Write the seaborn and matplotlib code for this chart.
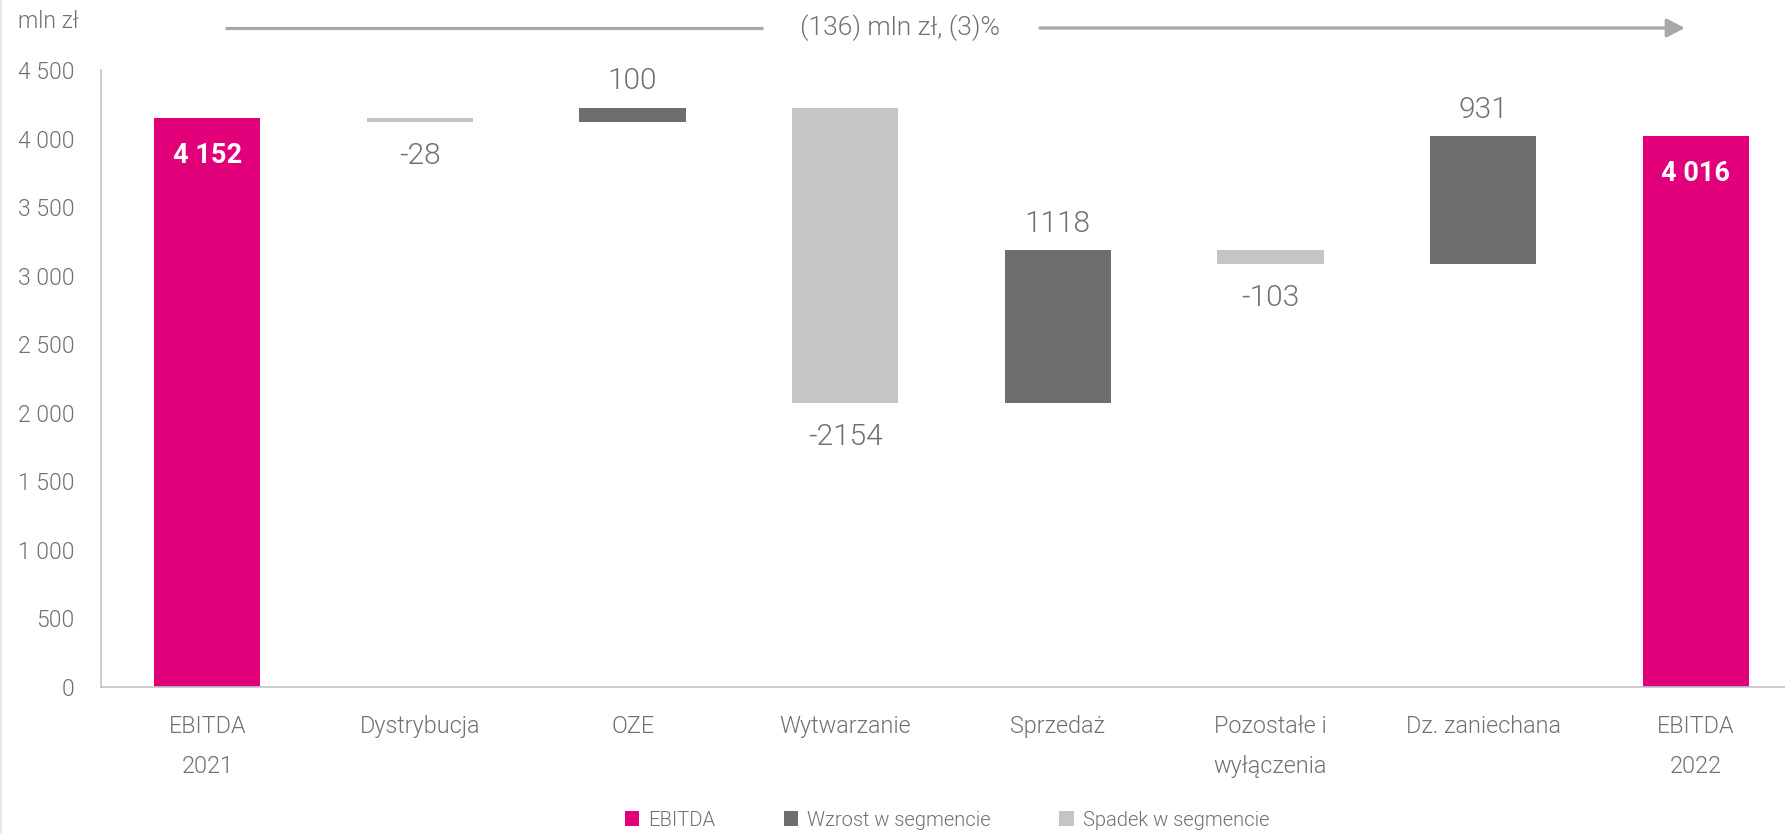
import numpy as np
import pandas as pd
import matplotlib
matplotlib.use("Agg")
import matplotlib.pyplot as plt
from matplotlib.patches import Patch, FancyArrowPatch
from matplotlib.lines import Line2D
from matplotlib.ticker import FuncFormatter, MultipleLocator
import seaborn as sns

# ---- data -------------------------------------------------------------
categories = ["EBITDA\n2021", "Dystrybucja", "OZE", "Wytwarzanie", "Sprzedaż",
              "Pozostałe i\nwyłączenia", "Dz. zaniechana", "EBITDA\n2022"]
ebitda_start = 4152
segment_changes = [-28, 100, -2154, 1118, -103, 931]
ebitda_end = 4016
legend_labels = ["EBITDA", "Wzrost w segmencie", "Spadek w segmencie"]
unit_label = "mln zł"

PINK = "#E2007A"
DARK = "#6E6E6C"
LIGHT = "#C5C5C5"
TEXT = "#707070"
AXIS = "#C4C4C4"
ARROW = "#A8A8A8"

sns.set_theme(style="white")
plt.rcParams["font.family"] = ["Roboto", "DejaVu Sans"]
LIGHTW = 300

# ---- waterfall geometry -------------------------------------------------
rows = [dict(cat=categories[0], height=ebitda_start, bottom=0, kind="total", value=ebitda_start)]
level = ebitda_start
for cat, delta in zip(categories[1:-1], segment_changes):
    new_level = level + delta
    rows.append(dict(cat=cat, height=abs(delta), bottom=min(level, new_level),
                     kind="up" if delta > 0 else "down", value=delta))
    level = new_level
rows.append(dict(cat=categories[-1], height=ebitda_end, bottom=0, kind="total", value=ebitda_end))
df = pd.DataFrame(rows)

fig = plt.figure(figsize=(17.85, 8.34), dpi=100)
fig.patch.set_facecolor("white")
ax = fig.add_axes([101 / 1785, 1 - 687 / 834, 1 - 101 / 1785, (687 - 70) / 834])

colors = {"total": PINK, "up": DARK, "down": LIGHT}
for kind, col in colors.items():
    sub = df[df["kind"] == kind]
    sns.barplot(data=sub, x="cat", y="height", order=categories, color=col,
                saturation=1, width=0.5, errorbar=None, linewidth=0,
                bottom=sub["bottom"].to_numpy(), ax=ax)

ax.set_xlim(-0.5, 7.42)
ax.set_ylim(0, 4500)
ax.yaxis.set_major_locator(MultipleLocator(500))
ax.yaxis.set_major_formatter(FuncFormatter(lambda v, p: f"{int(v):,}".replace(",", " ")))
ax.set_xlabel("")
ax.set_ylabel("")

for side in ["top", "right"]:
    ax.spines[side].set_visible(False)
for side in ["left", "bottom"]:
    ax.spines[side].set_color(AXIS)
    ax.spines[side].set_linewidth(1.2)

ax.tick_params(axis="y", length=0, pad=19, labelsize=16.5, labelcolor=TEXT)
ax.tick_params(axis="x", length=0, pad=20, labelsize=16.8, labelcolor=TEXT)
for lab in ax.get_yticklabels():
    lab.set_fontweight(LIGHTW)
for lab in ax.get_xticklabels():
    lab.set_linespacing(1.95)
    lab.set_horizontalalignment("center")
    lab.set_fontweight(LIGHTW)

# ---- value labels -------------------------------------------------------
for i, r in df.iterrows():
    if r["kind"] == "total":
        ax.annotate(f"{int(r['value']):,}".replace(",", " "),
                    xy=(i, r["height"]), xytext=(0, -27), textcoords="offset points",
                    ha="center", va="center", color="white", fontsize=19.5,
                    fontweight="bold")
    elif r["value"] > 0:
        ax.annotate(f"{int(r['value'])}", xy=(i, r["bottom"] + r["height"]),
                    xytext=(0, 19), textcoords="offset points",
                    ha="center", va="center", color=TEXT, fontsize=21.5,
                    fontweight=LIGHTW)
    else:
        ax.annotate(f"{int(r['value'])}", xy=(i, r["bottom"]),
                    xytext=(0, -24.5), textcoords="offset points",
                    ha="center", va="center", color=TEXT, fontsize=21.5,
                    fontweight=LIGHTW)

# ---- unit label ---------------------------------------------------------
fig.text(48 / 1785, 1 - 21 / 834, unit_label, ha="center", va="center",
         color=TEXT, fontsize=16.5, fontweight=LIGHTW)

# ---- overall change arrow ----------------------------------------------
total_change = ebitda_end - ebitda_start
pct = round(100 * total_change / ebitda_start)
arrow_text = f"({abs(total_change)}) {unit_label}, ({abs(pct)})%"
y_arrow = 1 - 28 / 834
fig.add_artist(Line2D([225 / 1785, 763 / 1785], [y_arrow, y_arrow],
                      color=ARROW, lw=2.3, solid_capstyle="butt"))
fig.text(900 / 1785, y_arrow, arrow_text, ha="center", va="center",
         color=TEXT, fontsize=19, fontweight=LIGHTW)
fig.add_artist(FancyArrowPatch((1040 / 1785, y_arrow), (1685 / 1785, y_arrow),
                               transform=fig.transFigure,
                               arrowstyle="-|>,head_length=0.55,head_width=0.28",
                               mutation_scale=20, lw=2.3, color=ARROW,
                               shrinkA=0, shrinkB=0))

# faint frame line on the left edge
fig.add_artist(Line2D([1 / 1785, 1 / 1785], [0, 1], color="#EAEAEA", lw=1.5))

# ---- legend -------------------------------------------------------------
handles = [Patch(facecolor=c, edgecolor="none") for c in (PINK, DARK, LIGHT)]
leg = fig.legend(handles, legend_labels, loc="center",
                 bbox_to_anchor=(947 / 1785, 1 - 820 / 834),
                 ncol=3, frameon=False, fontsize=14.5, labelcolor=TEXT,
                 handlelength=0.72, handleheight=0.72, handletextpad=0.45,
                 columnspacing=3.4, borderpad=0)
for t in leg.get_texts():
    t.set_fontweight(LIGHTW)

fig.savefig("out.png", dpi=100, facecolor="white")
